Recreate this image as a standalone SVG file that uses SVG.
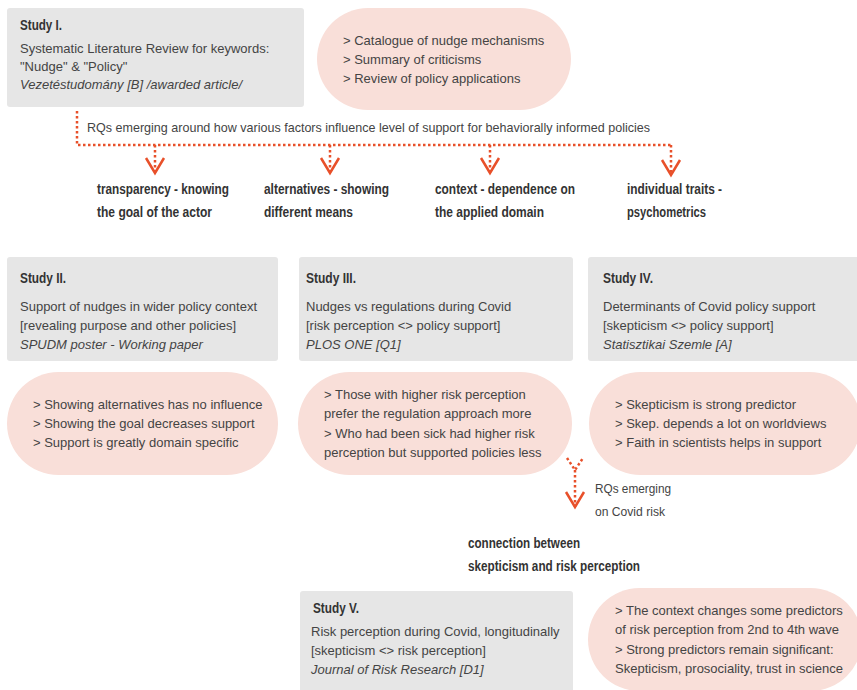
<svg xmlns="http://www.w3.org/2000/svg" width="857" height="690" viewBox="0 0 857 690">
<defs>
<style>
.box{fill:#e6e6e6;}
.pill{fill:#f9dfd9;}
text{font-family:"Liberation Sans",Arial,sans-serif;font-size:13px;fill:#444;}
.t{font-weight:bold;font-size:14px;fill:#333;}
.b{font-weight:bold;font-size:14px;fill:#333;}
.i{font-style:italic;}
.dot{fill:none;stroke:#e8502a;stroke-width:2.5;stroke-dasharray:2.5 2.5;}
</style>
<marker id="chev" markerUnits="userSpaceOnUse" markerWidth="22" markerHeight="26" viewBox="-19 -13 22 26" refX="0" refY="0" orient="auto">
<path d="M-15,-9 L0,0 L-15,9" fill="none" stroke="#e8502a" stroke-width="2.5"/>
</marker>
</defs>
<rect width="857" height="690" fill="#fff"/>

<g id="connectors">
<path class="dot" d="M77,111 V145 H671"/>
<path class="dot" d="M155,145 V173" marker-end="url(#chev)"/>
<path class="dot" d="M330,145 V173" marker-end="url(#chev)"/>
<path class="dot" d="M490,145 V173" marker-end="url(#chev)"/>
<path class="dot" d="M671,145 V175" marker-end="url(#chev)"/>
<path class="dot" d="M567,458 L575,470 L583,458"/>
<path class="dot" d="M575,470 V507" marker-end="url(#chev)"/>
</g>

<g id="study1">
<rect class="box" x="7" y="8" width="297" height="99" rx="3"/>
<text class="t" x="20" y="30" textLength="42" lengthAdjust="spacingAndGlyphs">Study I.</text>
<text x="20" y="53">Systematic Literature Review for keywords:</text>
<text x="20" y="71">"Nudge" &amp; "Policy"</text>
<text class="i" x="20" y="89">Vezetéstudomány [B] /awarded article/</text>
</g>

<g id="result1">
<rect class="pill" x="317" y="8" width="254" height="102" rx="51"/>
<text x="343" y="45">&gt; Catalogue of nudge mechanisms</text>
<text x="343" y="64">&gt; Summary of criticisms</text>
<text x="343" y="83">&gt; Review of policy applications</text>
</g>

<g id="rq1">
<text x="87" y="132" textLength="563" lengthAdjust="spacingAndGlyphs">RQs emerging around how various factors influence level of support for behaviorally informed policies</text>
</g>

<g id="factor-transparency">
<text class="b" x="97" y="194" textLength="132" lengthAdjust="spacingAndGlyphs">transparency - knowing</text>
<text class="b" x="97" y="217" textLength="115" lengthAdjust="spacingAndGlyphs">the goal of the actor</text>
</g>
<g id="factor-alternatives">
<text class="b" x="264" y="194" textLength="125" lengthAdjust="spacingAndGlyphs">alternatives - showing</text>
<text class="b" x="264" y="217" textLength="89" lengthAdjust="spacingAndGlyphs">different means</text>
</g>
<g id="factor-context">
<text class="b" x="435" y="194" textLength="140" lengthAdjust="spacingAndGlyphs">context - dependence on</text>
<text class="b" x="435" y="217" textLength="109" lengthAdjust="spacingAndGlyphs">the applied domain</text>
</g>
<g id="factor-traits">
<text class="b" x="627" y="194" textLength="95" lengthAdjust="spacingAndGlyphs">individual traits -</text>
<text class="b" x="627" y="217" textLength="79" lengthAdjust="spacingAndGlyphs">psychometrics</text>
</g>

<g id="study2">
<rect class="box" x="7" y="257" width="271" height="104" rx="3"/>
<text class="t" x="20" y="283" textLength="46" lengthAdjust="spacingAndGlyphs">Study II.</text>
<text x="20" y="311">Support of nudges in wider policy context</text>
<text x="20" y="330">[revealing purpose and other policies]</text>
<text class="i" x="20" y="349">SPUDM poster - Working paper</text>
</g>

<g id="study3">
<rect class="box" x="299" y="257" width="274" height="104" rx="3"/>
<text class="t" x="306" y="283" textLength="50" lengthAdjust="spacingAndGlyphs">Study III.</text>
<text x="306" y="311">Nudges vs regulations during Covid</text>
<text x="306" y="330">[risk perception &lt;&gt; policy support]</text>
<text class="i" x="306" y="349">PLOS ONE [Q1]</text>
</g>

<g id="study4">
<rect class="box" x="588" y="257" width="285" height="104" rx="3"/>
<text class="t" x="603" y="283" textLength="50" lengthAdjust="spacingAndGlyphs">Study IV.</text>
<text x="603" y="311">Determinants of Covid policy support</text>
<text x="603" y="330">[skepticism &lt;&gt; policy support]</text>
<text class="i" x="603" y="349">Statisztikai Szemle [A]</text>
</g>

<g id="result2">
<rect class="pill" x="7" y="372" width="271" height="103" rx="51.5"/>
<text x="33" y="409">&gt; Showing alternatives has no influence</text>
<text x="33" y="428">&gt; Showing the goal decreases support</text>
<text x="33" y="447">&gt; Support is greatly domain specific</text>
</g>

<g id="result3">
<rect class="pill" x="298" y="372" width="274" height="103" rx="51.5"/>
<text x="324" y="399">&gt; Those with higher risk perception</text>
<text x="324" y="418">prefer the regulation approach more</text>
<text x="324" y="438">&gt; Who had been sick had higher risk</text>
<text x="324" y="457">perception but supported policies less</text>
</g>

<g id="result4">
<rect class="pill" x="589" y="372" width="272" height="103" rx="51.5"/>
<text x="615" y="409">&gt; Skepticism is strong predictor</text>
<text x="615" y="428">&gt; Skep. depends a lot on worldviews</text>
<text x="615" y="447">&gt; Faith in scientists helps in support</text>
</g>

<g id="rq2">
<text x="595" y="493" textLength="76" lengthAdjust="spacingAndGlyphs">RQs emerging</text>
<text x="595" y="516" textLength="70" lengthAdjust="spacingAndGlyphs">on Covid risk</text>
</g>

<g id="factor-connection">
<text class="b" x="468" y="548" textLength="112" lengthAdjust="spacingAndGlyphs">connection between</text>
<text class="b" x="468" y="571" textLength="172" lengthAdjust="spacingAndGlyphs">skepticism and risk perception</text>
</g>

<g id="study5">
<rect class="box" x="300" y="591" width="273" height="110" rx="3"/>
<text class="t" x="313" y="613" textLength="46" lengthAdjust="spacingAndGlyphs">Study V.</text>
<text x="311" y="636">Risk perception during Covid, longitudinally</text>
<text x="311" y="655">[skepticism &lt;&gt; risk perception]</text>
<text class="i" x="311" y="674">Journal of Risk Research [D1]</text>
</g>

<g id="result5">
<rect class="pill" x="588" y="588" width="274" height="103" rx="51.5"/>
<text x="615" y="615">&gt; The context changes some predictors</text>
<text x="615" y="634">of risk perception from 2nd to 4th wave</text>
<text x="615" y="654">&gt; Strong predictors remain significant:</text>
<text x="615" y="673">Skepticism, prosociality, trust in science</text>
</g>
</svg>
